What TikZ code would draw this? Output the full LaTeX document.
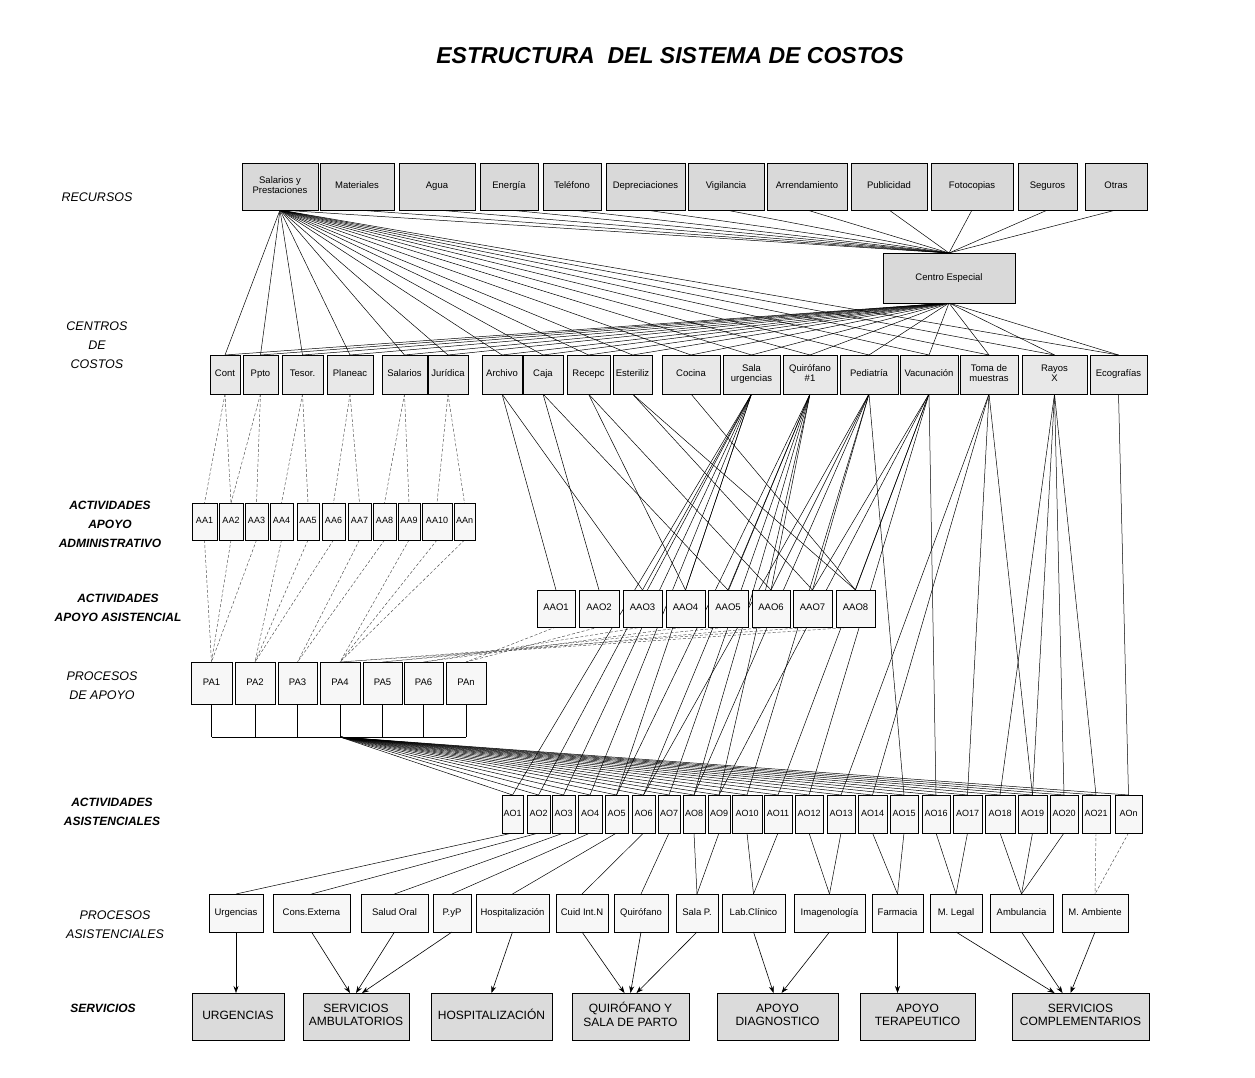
\documentclass[tikz,border=0pt]{standalone}
\usepackage{fontspec}
\setmainfont{Liberation Sans}
\usetikzlibrary{arrows.meta,calc}
\pgfdeclarelayer{bg}
\pgfdeclarelayer{paper}
\pgfsetlayers{paper,bg,main}
\newcommand\bx[7]{\node[#1, minimum width={(#4-#3)*1pt}, minimum height={(#6-#5)*1pt}] (#2) at ({(#3+#4)/2},{(#5+#6)/2}) {\strut#7\strut};}
\tikzset{
 bx/.style={draw, line width=0.8pt, inner sep=0pt, outer sep=0pt, font=\fontsize{9.5}{10.5}\selectfont, align=center},
 rbox/.style={bx, fill=gray!30},
 cbox/.style={bx, fill=gray!18},
 wbox/.style={bx, fill=gray!6},
 nbox/.style={bx, fill=gray!6, font=\fontsize{9}{10}\selectfont},
 sbox/.style={bx, fill=gray!28, font=\fontsize{12}{13.5}\selectfont},
 ln/.style={line width=0.5pt},
 dln/.style={line width=0.45pt, densely dashed, gray!60!black},
 arr/.style={line width=0.6pt, -{Stealth[length=7pt,width=5pt]}},
 lbl/.style={font=\fontsize{12.5}{19}\selectfont\itshape, align=center},
 blbl/.style={font=\fontsize{12}{19}\selectfont\bfseries\itshape, align=center},
}
\begin{document}
\begin{tikzpicture}[x=1pt,y=-1pt]
\useasboundingbox (0,0) rectangle (1255,1078);
\begin{pgfonlayer}{paper}
\fill[white] (0,0) rectangle (1255,1078);
\end{pgfonlayer}
% title
\node[font=\fontsize{23}{26}\selectfont\bfseries\itshape] (title) at (670,56) {ESTRUCTURA\ \ DEL SISTEMA DE COSTOS};
% left labels
\node[lbl] (lrec) at (97,197) {RECURSOS};
\node[lbl] (lcen) at (97,345) {CENTROS\\DE\\COSTOS};
\node[blbl] (laa) at (110,524) {ACTIVIDADES\\APOYO\\ADMINISTRATIVO};
\node[blbl] (laao) at (118,608) {ACTIVIDADES\\APOYO ASISTENCIAL};
\node[lbl] (lpa) at (102,686) {PROCESOS\\DE APOYO};
\node[blbl] (lao) at (112,812) {ACTIVIDADES\\ASISTENCIALES};
\node[lbl] (lpas) at (115,925) {PROCESOS\\ASISTENCIALES};
\node[blbl] (lser) at (103,1008) {SERVICIOS};
% resources
\bx{rbox}{r1}{242}{318}{163}{210}{Salarios y\\Prestaciones}
\bx{rbox}{r2}{320}{394}{163}{210}{Materiales}
\bx{rbox}{r3}{399}{475}{163}{210}{Agua}
\bx{rbox}{r4}{480}{538}{163}{210}{Energía}
\bx{rbox}{r5}{543}{601}{163}{210}{Teléfono}
\bx{rbox}{r6}{606}{685}{163}{210}{Depreciaciones}
\bx{rbox}{r7}{688}{764}{163}{210}{Vigilancia}
\bx{rbox}{r8}{767}{847}{163}{210}{Arrendamiento}
\bx{rbox}{r9}{851}{927}{163}{210}{Publicidad}
\bx{rbox}{r10}{931}{1013}{163}{210}{Fotocopias}
\bx{rbox}{r11}{1018}{1077}{163}{210}{Seguros}
\bx{rbox}{r12}{1085}{1147}{163}{210}{Otras}
\bx{rbox}{ce}{883}{1015}{253}{303}{Centro Especial}
% cost centers
\bx{cbox}{c1}{210}{240}{355}{394}{Cont}
\bx{cbox}{c2}{243}{278}{355}{394}{Ppto}
\bx{cbox}{c3}{282}{323}{355}{394}{Tesor.}
\bx{cbox}{c4}{327}{373}{355}{394}{Planeac}
\bx{cbox}{c5}{382}{427}{355}{394}{Salarios}
\bx{cbox}{c6}{428}{468}{355}{394}{Jurídica}
\bx{cbox}{c7}{482}{522}{355}{394}{Archivo}
\bx{cbox}{c8}{523}{563}{355}{394}{Caja}
\bx{cbox}{c9}{567}{610}{355}{394}{Recepc}
\bx{cbox}{c10}{613}{652}{355}{394}{Esteriliz}
\bx{cbox}{c11}{662}{720}{355}{394}{Cocina}
\bx{cbox}{c12}{723}{780}{355}{394}{Sala\\urgencias}
\bx{cbox}{c13}{783}{837}{355}{394}{Quirófano\\\#1}
\bx{cbox}{c14}{840}{898}{355}{394}{Pediatría}
\bx{cbox}{c15}{900}{958}{355}{394}{Vacunación}
\bx{cbox}{c16}{960}{1018}{355}{394}{Toma de\\muestras}
\bx{cbox}{c17}{1022}{1087}{355}{394}{Rayos\\X}
\bx{cbox}{c18}{1090}{1147}{355}{394}{Ecografías}
% AA
\bx{nbox}{aa1}{192}{217}{503}{540}{AA1}
\bx{nbox}{aa2}{219}{243}{503}{540}{AA2}
\bx{nbox}{aa3}{245}{268}{503}{540}{AA3}
\bx{nbox}{aa4}{270}{293}{503}{540}{AA4}
\bx{nbox}{aa5}{297}{319}{503}{540}{AA5}
\bx{nbox}{aa6}{322}{345}{503}{540}{AA6}
\bx{nbox}{aa7}{348}{371}{503}{540}{AA7}
\bx{nbox}{aa8}{373}{396}{503}{540}{AA8}
\bx{nbox}{aa9}{398}{420}{503}{540}{AA9}
\bx{nbox}{aa10}{422}{452}{503}{540}{AA10}
\bx{nbox}{aa11}{454}{475}{503}{540}{AAn}
% AAO
\bx{wbox}{aao1}{537}{575}{590}{627}{AAO1}
\bx{wbox}{aao2}{579}{619}{590}{627}{AAO2}
\bx{wbox}{aao3}{623}{662}{590}{627}{AAO3}
\bx{wbox}{aao4}{666}{705}{590}{627}{AAO4}
\bx{wbox}{aao5}{708}{748}{590}{627}{AAO5}
\bx{wbox}{aao6}{752}{790}{590}{627}{AAO6}
\bx{wbox}{aao7}{793}{832}{590}{627}{AAO7}
\bx{wbox}{aao8}{836}{875}{590}{627}{AAO8}
% PA
\bx{wbox}{pa1}{191}{232}{662}{704}{PA1}
\bx{wbox}{pa2}{235}{275}{662}{704}{PA2}
\bx{wbox}{pa3}{278}{317}{662}{704}{PA3}
\bx{wbox}{pa4}{320}{360}{662}{704}{PA4}
\bx{wbox}{pa5}{363}{402}{662}{704}{PA5}
\bx{wbox}{pa6}{404}{443}{662}{704}{PA6}
\bx{wbox}{pa7}{446}{486}{662}{704}{PAn}
% AO
\bx{nbox}{ao1}{502}{523}{795}{833}{AO1}
\bx{nbox}{ao2}{527}{550}{795}{833}{AO2}
\bx{nbox}{ao3}{552}{575}{795}{833}{AO3}
\bx{nbox}{ao4}{578}{602}{795}{833}{AO4}
\bx{nbox}{ao5}{605}{628}{795}{833}{AO5}
\bx{nbox}{ao6}{632}{655}{795}{833}{AO6}
\bx{nbox}{ao7}{658}{680}{795}{833}{AO7}
\bx{nbox}{ao8}{683}{705}{795}{833}{AO8}
\bx{nbox}{ao9}{708}{730}{795}{833}{AO9}
\bx{nbox}{ao10}{732}{762}{795}{833}{AO10}
\bx{nbox}{ao11}{764}{792}{795}{833}{AO11}
\bx{nbox}{ao12}{795}{823}{795}{833}{AO12}
\bx{nbox}{ao13}{827}{855}{795}{833}{AO13}
\bx{nbox}{ao14}{858}{887}{795}{833}{AO14}
\bx{nbox}{ao15}{890}{918}{795}{833}{AO15}
\bx{nbox}{ao16}{922}{950}{795}{833}{AO16}
\bx{nbox}{ao17}{953}{982}{795}{833}{AO17}
\bx{nbox}{ao18}{985}{1015}{795}{833}{AO18}
\bx{nbox}{ao19}{1018}{1047}{795}{833}{AO19}
\bx{nbox}{ao20}{1050}{1078}{795}{833}{AO20}
\bx{nbox}{ao21}{1082}{1110}{795}{833}{AO21}
\bx{nbox}{ao22}{1115}{1142}{795}{833}{AOn}
% processes
\bx{wbox}{p1}{209}{263}{894}{932}{Urgencias}
\bx{wbox}{p2}{273}{350}{894}{932}{Cons.Externa}
\bx{wbox}{p3}{361}{428}{894}{932}{Salud Oral}
\bx{wbox}{p4}{433}{471}{894}{932}{P.yP}
\bx{wbox}{p5}{476}{549}{894}{932}{Hospitalización}
\bx{wbox}{p6}{556}{608}{894}{932}{Cuid Int.N}
\bx{wbox}{p7}{614}{668}{894}{932}{Quirófano}
\bx{wbox}{p8}{676}{718}{894}{932}{Sala P.}
\bx{wbox}{p9}{722}{785}{894}{932}{Lab.Clínico}
\bx{wbox}{p10}{794}{865}{894}{932}{Imagenología}
\bx{wbox}{p11}{872}{923}{894}{932}{Farmacia}
\bx{wbox}{p12}{930}{982}{894}{932}{M. Legal}
\bx{wbox}{p13}{990}{1053}{894}{932}{Ambulancia}
\bx{wbox}{p14}{1062}{1128}{894}{932}{M. Ambiente}
% services
\bx{sbox}{s1}{192}{284}{993}{1040}{URGENCIAS}
\bx{sbox}{s2}{303}{409}{993}{1040}{SERVICIOS\\AMBULATORIOS}
\bx{sbox}{s3}{431}{552}{993}{1040}{HOSPITALIZACIÓN}
\bx{sbox}{s4}{572}{689}{993}{1040}{QUIRÓFANO Y\\SALA DE PARTO}
\bx{sbox}{s5}{717}{838}{993}{1040}{APOYO\\DIAGNOSTICO}
\bx{sbox}{s6}{860}{975}{993}{1040}{APOYO\\TERAPEUTICO}
\bx{sbox}{s7}{1012}{1149}{993}{1040}{SERVICIOS\\COMPLEMENTARIOS}
\begin{pgfonlayer}{bg}
% resources to centro especial
\foreach \i in {1,...,12} \draw[ln] (r\i.south) -- (ce.north);
% salarios to cost centers, centro especial to cost centers
\foreach \i in {1,...,18} {
  \draw[ln] (r1.south) -- (c\i.north);
  \draw[ln] (ce.south) -- (c\i.north);
}
% admin centers to AA
\foreach \a/\b in {c1/aa1,c1/aa2,c2/aa2,c2/aa3,c3/aa4,c3/aa5,c4/aa6,c4/aa7,c5/aa8,c5/aa9,c6/aa10,c6/aa11}
  \draw[dln] (\a.south) -- (\b.north);
% AA to PA
\foreach \a/\b in {aa1/pa1,aa2/pa1,aa3/pa1,aa4/pa2,aa5/pa2,aa6/pa2,aa7/pa3,aa8/pa3,aa9/pa4,aa10/pa4,aa11/pa4}
  \draw[dln] (\a.south) -- (\b.north);
% AAO to PA
\foreach \a/\b in {aao1/pa7,aao2/pa7,aao3/pa6,aao4/pa6,aao5/pa5,aao6/pa5,aao7/pa4,aao8/pa4}
  \draw[dln] (\a.south) -- (\b.north);
% clinical centers to AAO and AO
\foreach \a/\b in {c7/aao1,c7/aao3,c8/aao2,c8/aao5,c9/aao4,c9/aao6,c10/aao7,c10/aao8,c11/aao8,
  c12/aao3,c12/aao4,c12/ao1,c12/ao2,c12/ao3,c12/ao4,c12/ao5,
  c13/aao5,c13/aao6,c13/ao5,c13/ao6,c13/ao7,c13/ao8,c13/ao9,
  c14/aao6,c14/aao7,c14/ao6,c14/ao8,c14/ao10,c14/ao15,
  c15/aao7,c15/aao8,c15/ao9,c15/ao11,c15/ao12,c15/ao16,
  c16/ao13,c16/ao14,c16/ao17,c16/ao19,
  c17/ao18,c17/ao19,c17/ao20,c17/ao21,
  c18/ao22}
  \draw[ln] (\a.south) -- (\b.north);
% PA bus
\coordinate (hl) at (211.5,737);
\coordinate (hr) at (466,737);
\draw[ln] (hl) -- (hr);
\foreach \i in {1,...,7} \draw[ln] (pa\i.south) -- (pa\i.south |- hl);
\coordinate (hub) at (pa4.south |- hl);
\foreach \i in {1,...,22} \draw[ln] (hub) -- (ao\i.north);
% AO to processes
\foreach \a/\b in {ao1/p1,ao2/p2,ao3/p3,ao4/p4,ao5/p5,ao6/p6,ao7/p7,ao8/p8,ao9/p8,ao10/p9,ao11/p9,ao12/p10,ao13/p10,ao14/p11,ao15/p11,ao16/p12,ao17/p12,ao18/p13,ao19/p13,ao20/p13}
  \draw[ln] (\a.south) -- (\b.north);
\draw[dln] (ao21.south) -- (p14.north);
\draw[dln] (ao22.south) -- (p14.north);
\end{pgfonlayer}
% processes to services
\draw[arr] (p1.south) -- (p1.south |- s1.north);
\draw[arr] (p2.south) -- ([xshift=-6pt]s2.north);
\draw[arr] (p3.south) -- (s2.north);
\draw[arr] (p4.south) -- ([xshift=6pt]s2.north);
\draw[arr] (p5.south) -- (s3.north);
\draw[arr] (p6.south) -- ([xshift=-6pt]s4.north);
\draw[arr] (p7.south) -- (s4.north);
\draw[arr] (p8.south) -- ([xshift=6pt]s4.north);
\draw[arr] (p9.south) -- ([xshift=-4pt]s5.north);
\draw[arr] (p10.south) -- ([xshift=4pt]s5.north);
\draw[arr] (p11.south) -- (p11.south |- s6.north);
\draw[arr] (p12.south) -- ([xshift=-26pt]s7.north);
\draw[arr] (p13.south) -- ([xshift=-18pt]s7.north);
\draw[arr] (p14.south) -- ([xshift=-10pt]s7.north);
\end{tikzpicture}
\end{document}
